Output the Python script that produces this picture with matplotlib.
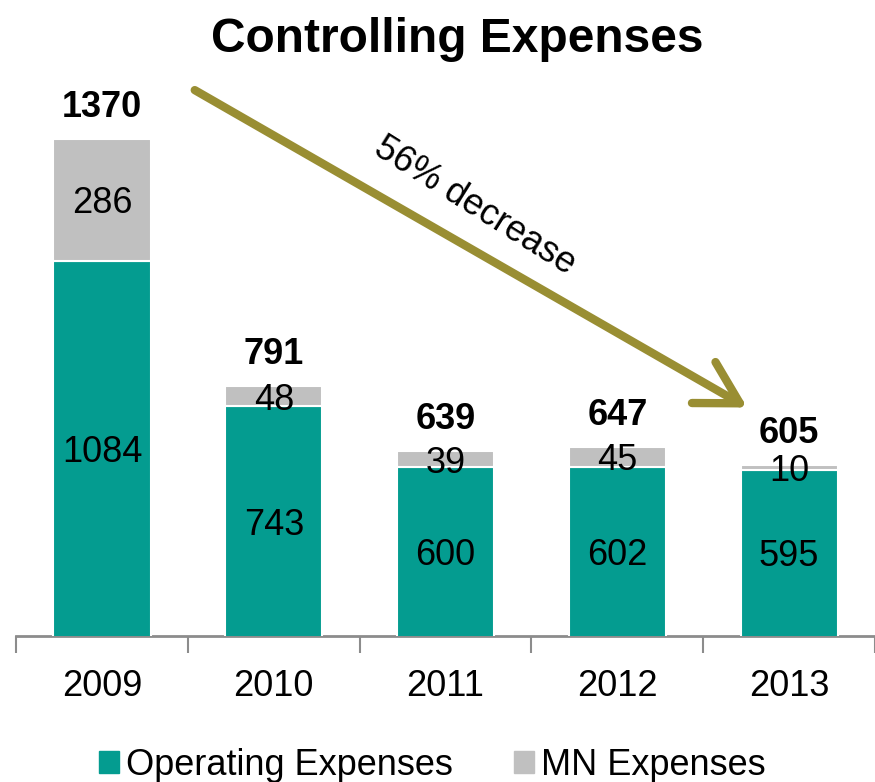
import matplotlib.pyplot as plt
from matplotlib.patches import Patch, FancyArrowPatch

plt.rcParams['font.family'] = ['Liberation Sans', 'DejaVu Sans']

years = ["2009", "2010", "2011", "2012", "2013"]
operating = [1084, 743, 600, 602, 595]
mn = [286, 48, 39, 45, 10]
totals = [1370, 791, 639, 647, 605]

TEAL = "#049C90"
GRAY = "#C0C0C0"
OLIVE = "#998E33"

fig = plt.figure(figsize=(8.75, 7.82), dpi=100)
ax = fig.add_axes([0.0178, 0.1867, 0.9822, 0.7113])

x = list(range(len(years)))
w = 0.565
ax.bar(x, operating, w, bottom=0, color=TEAL, edgecolor="white", linewidth=1.5, zorder=3)
ax.bar(x, mn, w, bottom=operating, color=GRAY, edgecolor="white", linewidth=1.5, zorder=3)

for i in x:
    ax.text(i, operating[i] / 2 + 205 / 2, str(operating[i]), ha="center",
            va="center_baseline", fontsize=26, zorder=4)
    ax.text(i, operating[i] + mn[i] / 2, str(mn[i]), ha="center",
            va="center_baseline", fontsize=26, zorder=4)
    ax.annotate(str(totals[i]), (i, operating[i] + mn[i]), xytext=(0, 10),
                textcoords="offset points", ha="center", va="bottom",
                fontsize=26, fontweight="bold")

ax.set_xlim(-0.503, 4.47)
ax.set_ylim(205, 1508)

for s in ["top", "right", "left"]:
    ax.spines[s].set_visible(False)
ax.spines["bottom"].set_color("#8C8C8C")
ax.spines["bottom"].set_linewidth(2)
ax.set_yticks([])
ax.set_xticks(x)
ax.set_xticklabels(years, fontsize=26)
ax.tick_params(axis="x", which="major", length=0, pad=24)
ax.set_xticks([-0.5, 0.5, 1.5, 2.5, 3.5, 4.5], minor=True)
ax.tick_params(axis="x", which="minor", length=12, width=1.5, color="#8C8C8C")

# trend arrow
arrow = FancyArrowPatch((0.526, 1487), (3.77, 737),
                        arrowstyle="->,head_length=1.5,head_width=0.85",
                        mutation_scale=20, color=OLIVE, linewidth=6,
                        capstyle="round", joinstyle="round", clip_on=False, zorder=5)
ax.add_patch(arrow)
ax.text(2.17, 1212, "56% decrease", rotation=-32, ha="center", va="center",
        fontsize=26, rotation_mode="anchor")

fig.suptitle("Controlling Expenses", x=0.523, y=0.978, fontsize=34.5, fontweight="bold")

handles = [Patch(color=TEAL), Patch(color=GRAY)]
fig.legend(handles, ["Operating Expenses", "MN Expenses"], loc="center",
           bbox_to_anchor=(0.494, 0.021), ncol=2, frameon=False, fontsize=26,
           handlelength=0.55, handleheight=0.55, handletextpad=0.2,
           columnspacing=1.7)

fig.savefig("out.png", dpi=100)
